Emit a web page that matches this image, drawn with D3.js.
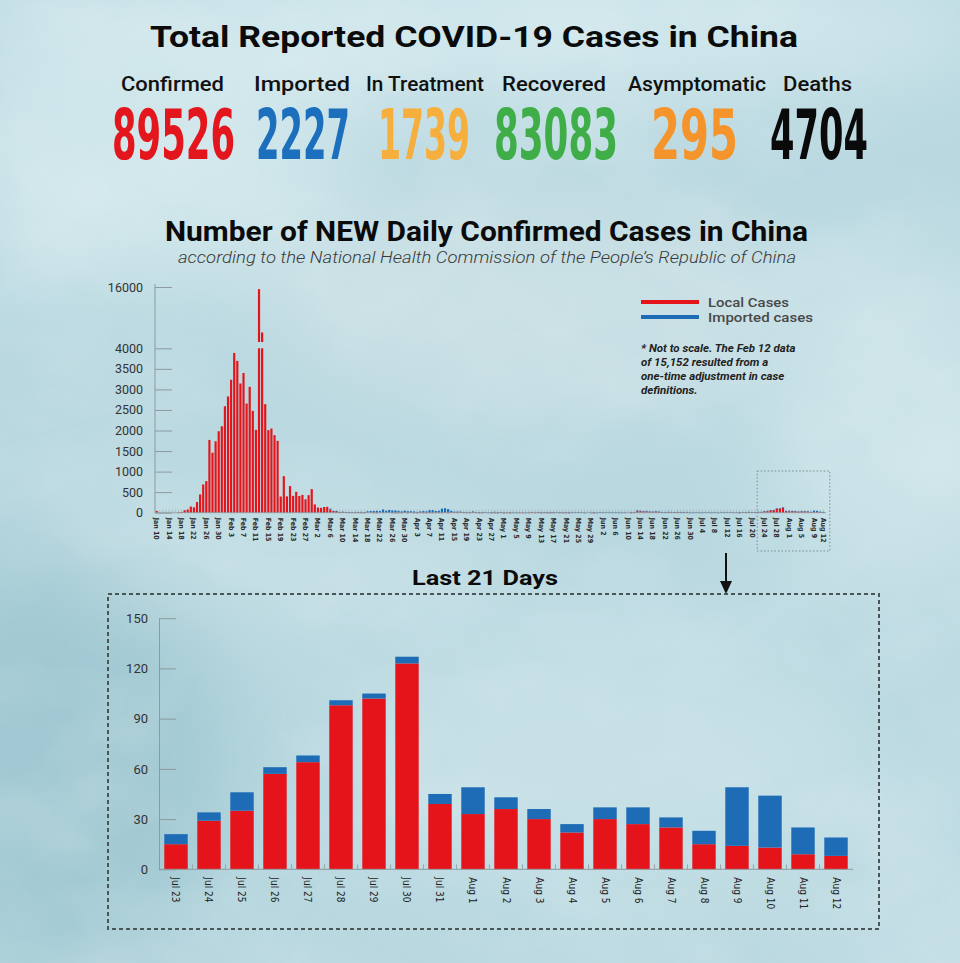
<!DOCTYPE html>
<html>
<head>
<meta charset="utf-8">
<script src="https://cdn.jsdelivr.net/npm/d3@7"></script>
<style>
html, body { margin: 0; padding: 0; background: #bddbe2; }
svg { display: block; }
</style>
</head>
<body>
<svg id="chart" width="960" height="963"></svg>
<script>
// ---- totals
var statLabels = ["Confirmed", "Imported", "In Treatment", "Recovered", "Asymptomatic", "Deaths"];
var statValues = [89526, 2227, 1739, 83083, 295, 4704];
var statColors = ["#e3161d", "#1b6fbd", "#f6ae3c", "#3fae49", "#f6942c", "#0a0a0a"];

// ---- daily new cases, Jan 10 .. Aug 12 (one value per day)
var localJan = [41, 0, 0, 0, 0, 0, 0, 4, 17, 59, 77, 149, 131, 259, 444, 688, 769, 1771, 1459, 1737, 1982, 2102];
var localFeb = [2590, 2829, 3235, 3887, 3694, 3143, 3399, 2656, 3062, 2478, 2015, 15152, 5090, 2641, 2009, 2048, 1886, 1749, 394, 889, 397, 648, 409, 508, 406, 433, 327, 427, 573];
var localMar = [202, 125, 119, 139, 143, 75, 41, 37, 17, 17, 9, 5, 4, 4, 4, 1, 1, 0, 0, 2, 1, 0, 4, 0, 0, 1, 1, 1, 1, 0, 1];
var localApr = [0, 2, 1, 5, 1, 2, 3, 2, 4, 4, 2, 10, 3, 10, 11, 5, 12, 5, 4, 2, 7, 4, 1, 1, 0, 0, 1, 1, 1, 6];
var localMay = [1, 1, 1, 0, 0, 2, 2, 0, 1, 12, 1, 6, 2, 4, 3, 3, 4, 0, 4, 3, 2, 1, 0, 0, 0, 0, 0, 0, 0, 1, 0];
var localJun = [0, 0, 0, 0, 0, 0, 0, 0, 0, 0, 1, 6, 36, 36, 27, 31, 21, 22, 22, 22, 9, 9, 7, 7, 11, 13, 14, 7, 7, 0];
var localJul = [0, 0, 0, 0, 0, 0, 0, 0, 0, 0, 0, 0, 0, 0, 0, 1, 0, 5, 17, 8, 9, 14, 15, 29, 35, 57, 64, 98, 102, 123, 39];
var localAug = [33, 36, 30, 22, 30, 27, 25, 15, 14, 13, 9, 8];

var importedJan = [0, 0, 0, 0, 0, 0, 0, 0, 0, 0, 0, 0, 0, 0, 0, 0, 0, 0, 0, 0, 0, 0];
var importedFeb = [0, 0, 0, 0, 0, 0, 0, 0, 0, 0, 0, 0, 0, 0, 0, 0, 0, 0, 0, 0, 0, 0, 0, 0, 0, 0, 0, 0, 0];
var importedMar = [0, 0, 0, 0, 0, 24, 3, 3, 2, 7, 6, 3, 7, 16, 12, 20, 12, 34, 39, 39, 45, 39, 74, 47, 67, 54, 53, 44, 30, 48, 35];
var importedApr = [35, 29, 18, 25, 38, 30, 59, 61, 38, 42, 97, 98, 86, 36, 15, 22, 15, 11, 8, 9, 23, 6, 5, 11, 11, 3, 5, 21, 3, 6];
var importedMay = [1, 0, 2, 2, 1, 0, 0, 1, 0, 2, 0, 1, 1, 3, 1, 2, 1, 6, 2, 2, 2, 4, 3, 11, 7, 7, 1, 0, 2, 3, 2];
var importedJun = [16, 5, 7, 6, 5, 5, 3, 3, 3, 0, 10, 5, 21, 13, 13, 13, 7, 3, 10, 4, 9, 3, 15, 12, 2, 8, 3, 5, 12, 3];
var importedJul = [3, 5, 3, 3, 8, 7, 3, 6, 2, 7, 6, 8, 7, 6, 3, 6, 8, 4, 5, 3, 5, 8, 6, 5, 11, 4, 4, 3, 3, 4, 6];
var importedAug = [16, 7, 6, 5, 7, 10, 6, 8, 35, 31, 16, 11];

var topTicks = [0, 500, 1000, 1500, 2000, 2500, 3000, 3500, 4000, 16000];
var lastTicks = [0, 30, 60, 90, 120, 150];

var noteLines = ["* Not to scale. The Feb 12 data", "of 15,152 resulted from a", "one-time adjustment in case", "definitions."];

var local = [].concat(localJan, localFeb, localMar, localApr, localMay, localJun, localJul, localAug);
var imported = [].concat(importedJan, importedFeb, importedMar, importedApr, importedMay, importedJun, importedJul, importedAug);
var days = d3.timeDay.range(new Date(2020, 0, 10), new Date(2020, 7, 13));
var fmt = d3.timeFormat("%b %-d");

var RED = "#e5141b", BLUE = "#1e6cb6";
var NARROW = "'Liberation Sans Narrow','DejaVu Sans Condensed',sans-serif";

var svg = d3.select("#chart");
var defs = svg.append("defs");

// ---- background: icy watercolour
var soft = defs.append("filter").attr("id", "soft").attr("x", "-50%").attr("y", "-50%").attr("width", "200%").attr("height", "200%");
soft.append("feGaussianBlur").attr("stdDeviation", 45);
var clouds = defs.append("filter").attr("id", "clouds").attr("x", 0).attr("y", 0).attr("width", "100%").attr("height", "100%");
clouds.append("feTurbulence").attr("type", "fractalNoise").attr("baseFrequency", "0.006 0.009").attr("numOctaves", 4).attr("seed", 7);
clouds.append("feColorMatrix").attr("type", "matrix")
  .attr("values", "0 0 0 0 1  0 0 0 0 1  0 0 0 0 1  1.6 0 0 0 -0.7");

svg.append("rect").attr("width", 960).attr("height", 963).attr("fill", "#b9d8e0");
var blobs = [
  [480, 30, 520, 70, "#d2e8ed"], [150, 170, 200, 120, "#cfe6eb"], [520, 300, 260, 110, "#c9e0e5"],
  [900, 420, 140, 180, "#cbe3e8"], [60, 760, 170, 220, "#a2c9d3"], [620, 760, 260, 130, "#c6e0e6"],
  [900, 900, 150, 100, "#c0dce3"], [300, 560, 220, 60, "#c5dfe5"]
];
svg.append("g").attr("filter", "url(#soft)").selectAll("ellipse").data(blobs).join("ellipse")
  .attr("cx", function(d) { return d[0]; }).attr("cy", function(d) { return d[1]; })
  .attr("rx", function(d) { return d[2]; }).attr("ry", function(d) { return d[3]; })
  .attr("fill", function(d) { return d[4]; });
svg.append("rect").attr("width", 960).attr("height", 963).attr("filter", "url(#clouds)").attr("opacity", 0.22);

// ---- header
svg.append("text").attr("x", 474).attr("y", 47).attr("text-anchor", "middle")
  .attr("textLength", 648).attr("lengthAdjust", "spacingAndGlyphs")
  .style("font", "700 30px Roboto, sans-serif").attr("fill", "#0b0b0b")
  .text("Total Reported COVID-19 Cases in China");

var labelPos = [[172.5, 103], [302, 96], [425, 118], [554, 104], [697, 138], [817.5, 69]];
var valuePos = [[173.5, 123], [303, 94], [424, 92], [556, 124], [694.5, 87], [819, 98]];
svg.append("g").selectAll("text").data(statLabels).join("text")
  .attr("x", function(d, i) { return labelPos[i][0]; }).attr("y", 90.5)
  .attr("text-anchor", "middle")
  .attr("textLength", function(d, i) { return labelPos[i][1]; }).attr("lengthAdjust", "spacingAndGlyphs")
  .style("font", "500 20px Roboto, sans-serif").attr("fill", "#111")
  .text(function(d) { return d; });
// condensed numerals: font size picked so the natural width fits, then stretched vertically
var nums = svg.append("g").selectAll("text").data(statValues).join("text")
  .attr("text-anchor", "middle")
  .style("font-family", NARROW).style("font-weight", 700).style("font-size", "53px")
  .attr("fill", function(d, i) { return statColors[i]; })
  .text(function(d) { return d; });
nums.each(function(d, i) {
  var w = this.getComputedTextLength();
  var fs = 53 * valuePos[i][1] / w;
  d3.select(this).style("font-size", fs + "px")
    .attr("transform", "translate(" + valuePos[i][0] + ",159) scale(1," + (69.4 / fs) + ")");
});

svg.append("text").attr("x", 486.5).attr("y", 241).attr("text-anchor", "middle")
  .attr("textLength", 643).attr("lengthAdjust", "spacingAndGlyphs")
  .style("font", "700 27px Roboto, sans-serif").attr("fill", "#0b0b0b")
  .text("Number of NEW Daily Confirmed Cases in China");
svg.append("text").attr("x", 487).attr("y", 263).attr("text-anchor", "middle")
  .attr("textLength", 618).attr("lengthAdjust", "spacingAndGlyphs")
  .style("font", "italic 300 16px Roboto, sans-serif").attr("fill", "#3a3a3a")
  .text("according to the National Health Commission of the People\u2019s Republic of China");

// ---- top chart: all days
var xTop = d3.scaleBand().domain(d3.range(days.length)).range([155.15, 824.85]).paddingInner(0.3).paddingOuter(0.15);
var yTop = d3.scaleLinear().domain([0, 4000, 16000]).range([512.7, 348.3, 287]);
var yLow = d3.scaleLinear().domain([0, 4000]).range([512.7, 348.3]);
var yHigh = d3.scaleLog().domain([4000, 16000]).range([342, 287]);

var topG = svg.append("g");
// day ticks on baseline
topG.append("g").selectAll("line").data(d3.range(days.length)).join("line")
  .attr("x1", function(i) { return xTop(i) + xTop.bandwidth() / 2; })
  .attr("x2", function(i) { return xTop(i) + xTop.bandwidth() / 2; })
  .attr("y1", yTop(0)).attr("y2", yTop(0) - 3)
  .attr("stroke", "#9aa6aa").attr("stroke-width", 0.6);

var segs = [];
days.forEach(function(d, i) {
  var l = local[i], m = imported[i];
  if (l > 4000) {
    segs.push({i: i, y0: yLow(4000), y1: yLow(0), c: RED});
    segs.push({i: i, y0: yHigh(l), y1: yHigh.range()[0], c: RED});
  } else {
    if (l > 0) segs.push({i: i, y0: yLow(l), y1: yLow(0), c: RED});
    if (m > 0) segs.push({i: i, y0: yLow(l + m), y1: yLow(l), c: BLUE});
  }
});
topG.append("g").selectAll("rect").data(segs).join("rect")
  .attr("x", function(s) { return xTop(s.i); }).attr("width", xTop.bandwidth())
  .attr("y", function(s) { return s.y0; })
  .attr("height", function(s) { return Math.max(0.6, s.y1 - s.y0); })
  .attr("fill", function(s) { return s.c; });

// axes
topG.append("line").attr("x1", 155).attr("x2", 826).attr("y1", yTop(0)).attr("y2", yTop(0))
  .attr("stroke", "#8c9a9e").attr("stroke-width", 0.8);
var yTicksTop = topG.append("g").attr("transform", "translate(155,0)")
  .call(d3.axisRight(yTop).tickValues(topTicks).tickSize(17).tickSizeOuter(0).tickFormat(""));
yTicksTop.selectAll("path,line").attr("stroke", "#8d9a9e");
yTicksTop.select(".domain").attr("d", "M0,284V" + yTop(0));
var yLabTop = topG.append("g").attr("transform", "translate(155,0)")
  .call(d3.axisLeft(yTop).tickValues(topTicks).tickSize(0).tickPadding(12).tickFormat(d3.format("d")));
yLabTop.select(".domain").remove();
yLabTop.selectAll("text").style("font", "12.5px Roboto, sans-serif").attr("fill", "#333");

var labelIdx = d3.range(0, days.length, 4).concat([days.length - 1]);
var xLabTop = topG.append("g").attr("transform", "translate(0," + yTop(0) + ")")
  .call(d3.axisBottom(xTop).tickValues(labelIdx).tickSize(0).tickFormat(function(i) { return fmt(days[i]); }));
xLabTop.select(".domain").remove();
xLabTop.selectAll("text").attr("transform", "rotate(90)").attr("x", 5).attr("y", 0).attr("dy", "0.35em")
  .attr("text-anchor", "start").style("font-family", NARROW).style("font-weight", 700)
  .style("font-size", "7px").attr("fill", "#2a2a2a");

// legend + note
var legend = [["Local Cases", RED, 81], ["Imported cases", BLUE, 105]];
var lg = svg.append("g").selectAll("g").data(legend).join("g")
  .attr("transform", function(d, i) { return "translate(641," + (302 + i * 15) + ")"; });
lg.append("line").attr("x2", 58).attr("stroke", function(d) { return d[1]; }).attr("stroke-width", 4);
lg.append("text").attr("x", 67).attr("y", 4.5)
  .attr("textLength", function(d) { return d[2]; }).attr("lengthAdjust", "spacingAndGlyphs")
  .style("font", "500 12.5px Roboto, sans-serif").attr("fill", "#484848")
  .text(function(d) { return d[0]; });
svg.append("g").selectAll("text").data(noteLines).join("text")
  .attr("x", 641).attr("y", function(d, i) { return 352 + i * 14; })
  .style("font", "italic 700 11.5px Roboto, sans-serif").attr("fill", "#222")
  .text(function(d) { return d; });

// zoom box on last 21 days
var nLast = 21, firstLast = days.length - nLast;
svg.append("rect").attr("x", xTop(firstLast) - 3).attr("y", 471)
  .attr("width", xTop.range()[1] + 5 - (xTop(firstLast) - 3)).attr("height", 80)
  .attr("fill", "none").attr("stroke", "#7d8a8e").attr("stroke-width", 1).attr("stroke-dasharray", "1.5,2");

// arrow
svg.append("line").attr("x1", 726).attr("x2", 726).attr("y1", 553).attr("y2", 583).attr("stroke", "#111").attr("stroke-width", 2);
svg.append("path").attr("d", "M720,581L732,581L726,594Z").attr("fill", "#111");

svg.append("text").attr("x", 485).attr("y", 585).attr("text-anchor", "middle")
  .attr("textLength", 146).attr("lengthAdjust", "spacingAndGlyphs")
  .style("font", "700 20px Roboto, sans-serif").attr("fill", "#0b0b0b").text("Last 21 Days");

svg.append("rect").attr("x", 108).attr("y", 594).attr("width", 771).attr("height", 335)
  .attr("fill", "none").attr("stroke", "#4a5558").attr("stroke-width", 2).attr("stroke-dasharray", "4,3");

// ---- bottom chart: last 21 days
var lastDays = days.slice(firstLast);
var lastLocal = local.slice(firstLast), lastImported = imported.slice(firstLast);
var xb = d3.scaleBand().domain(d3.range(nLast)).range([159, 853]).paddingInner(0.29).paddingOuter(0.16);
var yb = d3.scaleLinear().domain([0, 150]).range([869.3, 618.2]);

var bot = svg.append("g");
var ybTicks = bot.append("g").attr("transform", "translate(159,0)")
  .call(d3.axisRight(yb).tickValues(lastTicks).tickSize(17).tickSizeOuter(0).tickFormat(""));
ybTicks.selectAll("path,line").attr("stroke", "#8d9a9e");
var ybLab = bot.append("g").attr("transform", "translate(159,0)")
  .call(d3.axisLeft(yb).tickValues(lastTicks).tickSize(0).tickPadding(11));
ybLab.select(".domain").remove();
ybLab.selectAll("text").style("font", "13px Roboto, sans-serif").attr("fill", "#333");

var gaps = d3.range(1, nLast).map(function(i) { return xb(i) - xb.step() * xb.paddingInner() / 2; });
bot.append("g").selectAll("line").data(gaps).join("line")
  .attr("x1", function(d) { return d; }).attr("x2", function(d) { return d; })
  .attr("y1", yb(0)).attr("y2", yb(0) - 5).attr("stroke", "#9aa6aa").attr("stroke-width", 1);

bot.append("g").selectAll("rect").data(lastLocal).join("rect")
  .attr("x", function(d, i) { return xb(i); }).attr("width", xb.bandwidth())
  .attr("y", function(d) { return yb(d); }).attr("height", function(d) { return yb(0) - yb(d); })
  .attr("fill", RED);
bot.append("g").selectAll("rect").data(lastImported).join("rect")
  .attr("x", function(d, i) { return xb(i); }).attr("width", xb.bandwidth())
  .attr("y", function(d, i) { return yb(lastLocal[i] + d); })
  .attr("height", function(d, i) { return yb(lastLocal[i]) - yb(lastLocal[i] + d); })
  .attr("fill", BLUE);

bot.append("line").attr("x1", 159).attr("x2", 853).attr("y1", yb(0)).attr("y2", yb(0))
  .attr("stroke", "#8d9a9e").attr("stroke-width", 1);
var xbLab = bot.append("g").attr("transform", "translate(0," + yb(0) + ")")
  .call(d3.axisBottom(xb).tickSize(0).tickFormat(function(i) { return fmt(lastDays[i]); }));
xbLab.select(".domain").remove();
xbLab.selectAll("text").attr("transform", "rotate(90)").attr("x", 8).attr("y", 0).attr("dy", "0.35em")
  .attr("text-anchor", "start").style("font-family", NARROW).style("font-size", "10px").attr("fill", "#222");
</script>
</body>
</html>
